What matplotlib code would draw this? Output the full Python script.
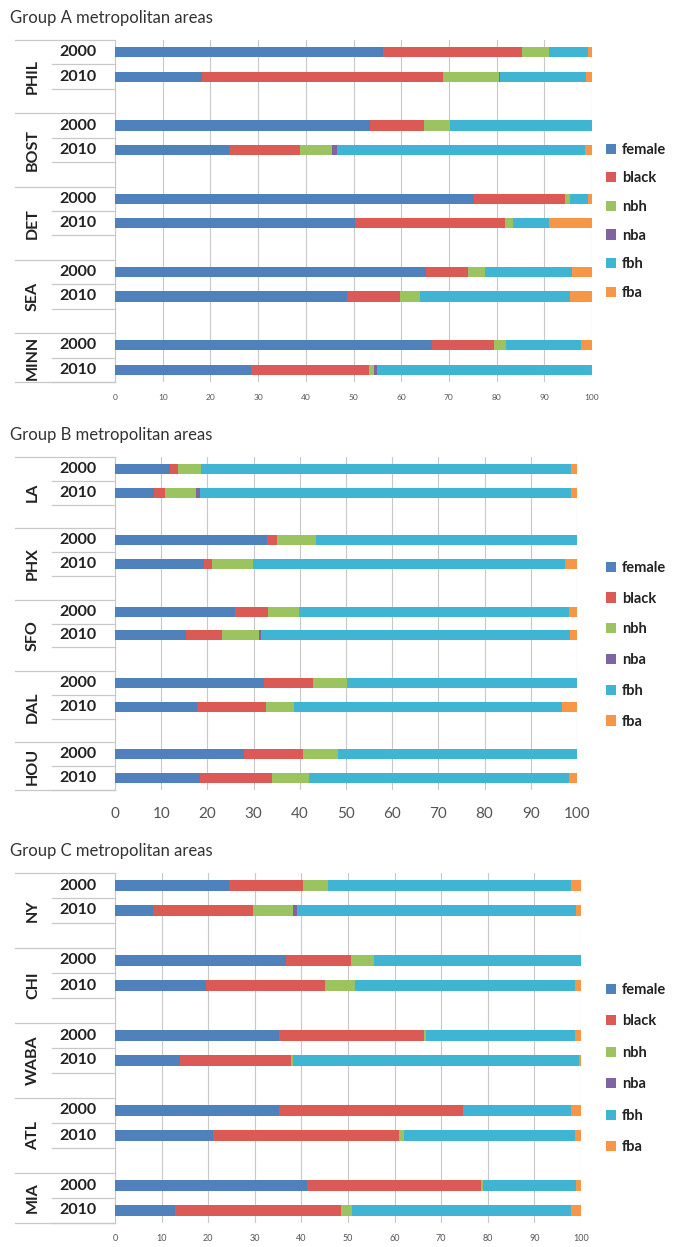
import matplotlib
matplotlib.use("Agg")
import matplotlib.pyplot as plt
from matplotlib.patches import Patch
import numpy as np

plt.rcParams['font.family'] = ['Lato', 'DejaVu Sans']

# === DATA ===
series = ["female", "black", "nbh", "nba", "fbh", "fba"]
colors = ["#4F81BD", "#DB5A56", "#9BC35F", "#8064A2", "#3FB5D3", "#F79646"]
years = ["2000", "2010"]

cities_a = ["PHIL", "BOST", "DET", "SEA", "MINN"]
female_a = [56.2, 18.3, 53.4, 23.9, 75.3, 50.4, 65.3, 48.6, 66.5, 28.5]
black_a = [29.1, 50.4, 11.3, 14.9, 19.1, 31.4, 8.6, 11.2, 13.0, 24.8]
nbh_a = [5.7, 11.8, 5.6, 6.6, 0.9, 1.6, 3.6, 4.2, 2.4, 0.9]
nba_a = [0.0, 0.2, 0.0, 1.2, 0.0, 0.0, 0.0, 0.0, 0.0, 0.8]
fbh_a = [8.2, 18.1, 29.7, 52.0, 3.9, 7.5, 18.3, 31.3, 15.7, 45.0]
fba_a = [0.8, 1.2, 0.0, 1.4, 0.8, 9.1, 4.2, 4.7, 2.4, 0.0]

cities_b = ["LA", "PHX", "SFO", "DAL", "HOU"]
female_b = [11.9, 8.5, 32.8, 19.3, 26.0, 15.4, 32.2, 17.7, 28.0, 18.4]
black_b = [1.8, 2.3, 2.2, 1.7, 7.2, 7.8, 10.7, 14.9, 12.8, 15.6]
nbh_b = [5.0, 6.8, 8.4, 8.9, 6.6, 7.9, 7.3, 6.2, 7.5, 7.9]
nba_b = [0.0, 0.8, 0.0, 0.0, 0.0, 0.4, 0.0, 0.0, 0.0, 0.0]
fbh_b = [80.1, 80.4, 56.6, 67.4, 58.4, 67.0, 49.8, 57.9, 51.7, 56.4]
fba_b = [1.2, 1.2, 0.0, 2.7, 1.8, 1.5, 0.0, 3.3, 0.0, 1.7]

cities_c = ["NY", "CHI", "WABA", "ATL", "MIA"]
female_c = [24.4, 8.2, 36.7, 19.5, 35.1, 14.0, 35.3, 21.1, 41.3, 12.9]
black_c = [15.9, 21.4, 14.0, 25.5, 31.2, 23.8, 39.3, 39.9, 37.2, 35.7]
nbh_c = [5.5, 8.6, 4.8, 6.6, 0.5, 0.4, 0.0, 1.0, 0.5, 2.3]
nba_c = [0.0, 0.8, 0.0, 0.0, 0.0, 0.0, 0.0, 0.0, 0.0, 0.0]
fbh_c = [52.0, 60.0, 44.5, 47.2, 32.0, 61.4, 23.2, 36.8, 20.0, 46.9]
fba_c = [2.2, 1.0, 0.0, 1.2, 1.2, 0.4, 2.2, 1.2, 1.0, 2.2]

W, H = 683, 1247
fig = plt.figure(figsize=(W / 100, H / 100), dpi=100)

def fx(px):
    return px / W

def fy(py):
    return 1 - py / H

grid_col = "#c8c8c8"

def panel(title, cities, data, left, right, top, bottom, tick_size, tick_pad, legend_top, legend_gap):
    ax = fig.add_axes([fx(left), fy(bottom), fx(right - left), (bottom - top) / H])
    n = len(cities)
    nslots = 3 * n - 1
    pos = []
    for g in range(n):
        pos += [3 * g, 3 * g + 1]
    pos = np.array(pos)
    start = np.zeros(len(pos))
    for vals, col in zip(data, colors):
        ax.barh(pos, vals, left=start, height=0.42, color=col, edgecolor="none", zorder=3)
        start = start + np.array(vals)
    ax.set_xlim(0, 100)
    ax.set_ylim(nslots - 0.5, -0.5)
    ax.set_xticks(np.arange(0, 101, 10))
    ax.tick_params(axis="x", length=0, labelsize=tick_size, labelcolor="#555555", pad=tick_pad)
    ax.set_yticks([])
    ax.grid(axis="x", color=grid_col, linewidth=0.8, zorder=0)
    for s in ["top", "right", "bottom"]:
        ax.spines[s].set_visible(False)
    ax.spines["left"].set_color(grid_col)

    # multi-level category axis on the left
    tr = ax.get_yaxis_transform()
    x_left = (15 - left) / (right - left)
    x_year = (52 - left) / (right - left)
    x_city = (33 - left) / (right - left)
    x_ylab = (78 - left) / (right - left)
    for g in range(n):
        ax.plot([x_left, 0], [3 * g - 0.5] * 2, transform=tr, color=grid_col, lw=0.9, clip_on=False)
        for k in range(2):
            ax.plot([x_year, 0], [3 * g + k + 0.5] * 2, transform=tr, color=grid_col, lw=0.9, clip_on=False)
            ax.text(x_ylab, 3 * g + k, years[k], transform=tr, ha="center", va="center",
                    fontsize=11.5, fontweight="bold", color="#222222")
        span_end = 3 * g + 2.5 if g < n - 1 else 3 * g + 1.5
        ax.text(x_city, (3 * g - 0.5 + span_end) / 2, cities[g], transform=tr, rotation=90,
                ha="center", va="center", fontsize=11.5, fontweight="bold", color="#222222")
    ax.plot([x_left, 0], [nslots - 0.5] * 2, transform=tr, color=grid_col, lw=0.9, clip_on=False)

    fig.text(fx(10), fy(top - 22), title, fontsize=12, color="#333333", va="center", ha="left")

    handles = [Patch(facecolor=c, edgecolor="none") for c in colors]
    fig.legend(handles, series, loc="upper left", bbox_to_anchor=(fx(600), fy(legend_top)),
               frameon=False, handlelength=0.7, handleheight=0.7, handletextpad=0.4,
               labelspacing=legend_gap, borderaxespad=0,
               prop={"family": "Lato", "weight": "bold", "size": 10.5}, labelcolor="#222222")
    return ax

panel("Group A metropolitan areas", cities_a,
      [female_a, black_a, nbh_a, nba_a, fbh_a, fba_a],
      115, 592, 40, 382, 6, 9, 137, 1.0)
panel("Group B metropolitan areas", cities_b,
      [female_b, black_b, nbh_b, nba_b, fbh_b, fba_b],
      115, 577, 457, 790, 11, 12, 555, 1.15)
panel("Group C metropolitan areas", cities_c,
      [female_c, black_c, nbh_c, nba_c, fbh_c, fba_c],
      115, 581, 873, 1223, 6.5, 8, 977, 1.2)

fig.savefig("out.png", dpi=100)
